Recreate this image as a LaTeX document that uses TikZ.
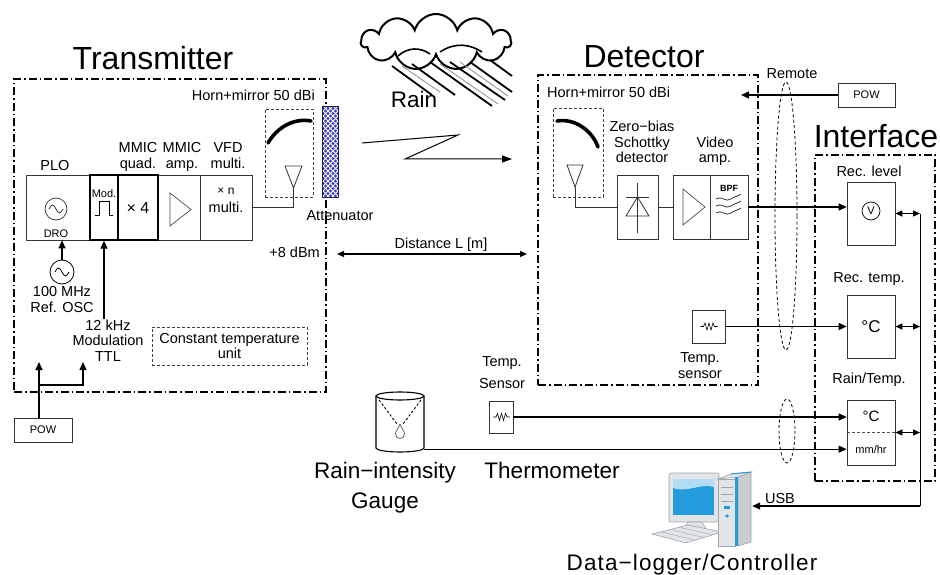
\documentclass[tikz,border=0pt]{standalone}
\usepackage{fontspec}
\setmainfont{Liberation Sans}
\usepackage{tikz}
\usetikzlibrary{arrows.meta, positioning, shapes.symbols}
\newcommand{\fsmall}{\fontsize{14.5}{15.5}\selectfont}
\newcommand{\ftiny}{\fontsize{11}{12}\selectfont}
\newcommand{\fbig}{\fontsize{22.5}{30}\selectfont}
\newcommand{\fhead}{\fontsize{32}{36}\selectfont}
\definecolor{attblue}{RGB}{58,62,196}
\definecolor{scrblue}{RGB}{35,155,220}
\definecolor{pcgray}{RGB}{226,229,232}
\definecolor{pcdark}{RGB}{160,166,172}

\begin{document}
\begin{tikzpicture}[x=1pt, y=-1pt,
    blk/.style={draw=black!80, rectangle, line width=0.7pt, inner sep=0pt},
    thk/.style={draw, rectangle, line width=1.4pt, inner sep=0pt},
    unit/.style={draw, line width=1.3pt, inner sep=0pt, dash pattern=on 8pt off 3pt on 1.5pt off 3pt},
    dbox/.style={draw=black!75, line width=0.7pt, inner sep=0pt, dash pattern=on 3pt off 2pt},
    lbl/.style={align=center, font=\fsmall, inner sep=0pt, anchor=base},
    big/.style={align=center, font=\fbig, inner sep=0pt, anchor=base},
    head/.style={font=\fhead, inner sep=0pt, anchor=base},
    sig/.style={draw, line width=1.2pt, -{Triangle[length=8pt,width=7pt]}},
    twoway/.style={draw, line width=1.2pt, {Triangle[length=7pt,width=6pt]}-{Triangle[length=7pt,width=6pt]}},
    wire/.style={draw=black!80, line width=0.8pt},
    mirror/.style={draw, line width=3.6pt, line cap=round},
    streak/.style={draw, line width=1.8pt},
    bundle/.style={draw, line width=0.8pt, dash pattern=on 3pt off 2.5pt}
  ]
  \useasboundingbox (0,0) rectangle (940,575);

  \node[unit, minimum width=312pt, minimum height=313pt] (TX) at (170,235.5) {};
  \node[unit, minimum width=220pt, minimum height=310pt] (DT) at (648,230) {};
  \node[unit, minimum width=120pt, minimum height=326pt] (IF) at (875,318) {};
  \node[head] (TT) at (153,70) {Transmitter};
  \node[head] (DH) at (644,68) {Detector};
  \node[head] (IH) at (876,148) {Interface};

  % transmitter
  \node[lbl, anchor=base east] (HTL) at (315,101) {Horn+mirror 50 dBi};
  \node[dbox, minimum width=48pt, minimum height=88pt] (HT) at (289,153) {};
  \draw[mirror] (268,143) .. controls (278,126) and (295,118) .. (311,121);
  \draw[wire] (285,166) -- (302,166) -- (293.5,188) -- cycle;
  \coordinate (AT1) at (293.5,188);
  \node[draw=attblue!50!black, line width=0.6pt, minimum width=15pt, minimum height=90pt, inner sep=0pt, fill=attblue] (ATT) at (330.5,152) {};
  \begin{scope}
    \clip (ATT.north west) rectangle (ATT.south east);
    \foreach \i in {-16,-11,...,94}
      \draw[white, line width=0.9pt] (323,107+\i) -- ++(15,15) (338,107+\i) -- ++(-15,15);
  \end{scope}
  \draw[attblue!50!black, line width=0.6pt] (ATT.north west) rectangle (ATT.south east);
  \node[lbl] (ATL) at (340,220) {Attenuator};

  \node[blk, minimum width=64pt, minimum height=65pt] (P) at (58,207.5) {};
  \node[blk, minimum width=42pt, minimum height=65pt] (AM) at (179,207.5) {};
  \node[blk, minimum width=52pt, minimum height=65pt] (N) at (226,207.5) {};
  \node[thk, minimum width=28pt, minimum height=65pt] (M) at (104,207.5) {};
  \node[thk, minimum width=40pt, minimum height=65pt, font=\fontsize{16}{16}\selectfont] (Q) at (138,207.5) {× 4};
  \node[lbl] (PL) at (55,171) {PLO};
  \node[lbl] (QL) at (138,168) {MMIC\\quad.};
  \node[lbl] (AL) at (182,168) {MMIC\\amp.};
  \node[lbl] (NL) at (228,168) {VFD\\multi.};

  \node[draw=black!80, circle, minimum size=22pt, inner sep=0pt, line width=0.7pt] (DRO) at (56,209) {};
  \draw[wire] (49,209) sin (52.5,205) cos (56,209) sin (59.5,213) cos (63,209);
  \node[font=\ftiny, inner sep=0pt, anchor=base] (DROL) at (56,237) {DRO};
  \node[font=\ftiny, inner sep=0pt, anchor=base] (ML) at (104,197) {Mod.};
  \draw[line width=0.9pt] (95,215) -- (99,215) -- (99,201) -- (109,201) -- (109,215) -- (113,215);
  \draw[draw=black!70, line width=0.7pt] (170,193) -- (191,209.5) -- (170,226) -- cycle;
  \node[font=\fontsize{12}{12}\selectfont, inner sep=0pt, anchor=base] (XN) at (226,194) {× n};
  \node[lbl] (XM) at (226,212) {multi.};
  \draw[wire] (AT1) |- (N.east);

  \node[draw, circle, minimum size=24pt, inner sep=0pt, line width=0.8pt] (OSC) at (62,272) {};
  \draw[line width=0.8pt] (55,272) sin (58.5,268) cos (62,272) sin (65.5,276) cos (69,272);
  \draw[sig] (OSC) -- (OSC |- P.south);
  \node[lbl] (OSCL) at (62,312) {100 MHz\\Ref. OSC};
  \node[lbl] (MT) at (108,361) {12 kHz\\Modulation\\TTL};
  \draw[sig] (MT.north -| M.south) -- (M.south);
  \node[dbox, minimum width=155pt, minimum height=38pt, align=center, font=\fsmall] (CT) at (229.5,346) {Constant temperature\\unit};
  \node[lbl, anchor=base east] (DBM) at (320,257) {+8 dBm};

  \node[blk, minimum width=58pt, minimum height=24pt, font=\ftiny] (PW1) at (43,430) {POW};
  \coordinate (PA) at (39,362);
  \coordinate (PB) at (83,362);
  \coordinate (PJ) at (39,385);
  \draw[sig] (PW1.north -| PA) -- (PA);
  \draw[sig] (PJ) -| (PB);

  % link
  \coordinate (DL1) at (337,254);
  \coordinate (DL2) at (527,254);
  \draw[twoway] (DL1) -- (DL2);
  \node[lbl] (DLL) at (441,248) {Distance L [m]};
  \coordinate (Z1) at (362,143);
  \coordinate (Z2) at (458,135);
  \coordinate (Z3) at (405,159);
  \coordinate (Z4) at (512,159);
  \draw[line width=1pt, -{Triangle[length=10pt,width=7pt]}] (Z1) -- (Z2) -- (Z3) -- (Z4);

  \node[cloud, draw, line width=2pt, cloud puffs=11, aspect=2.7, minimum width=150pt, minimum height=56pt, inner sep=0pt] (CL) at (436,42) {};
  \draw[line width=1.6pt] (398,56) .. controls (408,47) and (420,47) .. (430,54);
  \draw[line width=1.6pt] (440,52) .. controls (455,42) and (470,44) .. (482,52);
  \foreach \sx/\sy/\ex/\ey in {392/66/432/95, 412/64/455/95, 430/62/492/106, 450/62/505/100, 470/62/512/92, 490/60/512/76}
    \draw[streak] (\sx,\sy) -- (\ex,\ey);
  \foreach \sx/\sy/\ex/\ey in {402/66/440/92, 440/64/498/104, 460/62/508/96}
    \draw[black!45, line width=0.8pt] (\sx,\sy) -- (\ex,\ey);
  \node[big] (RN) at (414,108) {Rain};

  % detector
  \node[lbl, anchor=base west] (HDL) at (547,98) {Horn+mirror 50 dBi};
  \node[dbox, minimum width=50pt, minimum height=89pt] (HD) at (578,152.5) {};
  \draw[mirror] (557,121) .. controls (574,118) and (592,130) .. (598,147);
  \draw[wire] (567,165) -- (583,165) -- (575,187) -- cycle;
  \coordinate (AT2) at (575,187);
  \node[blk, minimum width=41pt, minimum height=64pt] (DI) at (637.5,207) {};
  \draw[wire] (AT2) |- (DI.west);
  \draw[wire] (637.5,183) -- (637.5,233);
  \draw[wire] (626,197) -- (649,197);
  \draw[wire] (637.5,197) -- (626,216) -- (649,216) -- cycle;
  \node[blk, minimum width=37pt, minimum height=64pt] (VA) at (691.5,207) {};
  \node[blk, minimum width=38pt, minimum height=64pt] (BP) at (729,207) {};
  \draw[wire] (DI.east) -- (VA.west);
  \draw[draw=black!70, line width=0.7pt] (683,189) -- (705,207) -- (683,225) -- cycle;
  \node[font=\bfseries\fontsize{9}{9}\selectfont, inner sep=0pt] (BPL) at (729,188) {BPF};
  \foreach \y in {199,206,213}
    \draw[wire] (716,\y) .. controls (721,\y-4) and (726,\y+4) .. (731,\y) .. controls (735,\y-3) and (739,\y-3) .. (741,\y-5);
  \node[lbl] (ZBL) at (642,163) {Zero−bias\\Schottky\\detector};
  \node[lbl] (VAL) at (715,163) {Video\\amp.};

  \node[blk, minimum width=57pt, minimum height=24pt, font=\ftiny] (PW2) at (866.5,95) {POW};
  \coordinate (RM) at (741,95);
  \draw[sig] (PW2.west) -- (RM);
  \node[lbl] (RML) at (792,79) {Remote};
  \draw[bundle] (786,216) ellipse [x radius=11, y radius=134];
  \draw[bundle] (787,431) ellipse [x radius=8, y radius=32];

  \node[blk, minimum width=33pt, minimum height=33pt] (TS1) at (708.5,326.5) {};
  \draw[line width=0.6pt] ([xshift=-8pt]TS1.center) -- ++(3,0) -- ++(1.5,-3.5) -- ++(2,7) -- ++(2,-7) -- ++(2,7) -- ++(2,-7) -- ++(1.5,3.5) -- ++(3,0);
  \node[lbl] (TS1L) at (700,378) {Temp.\\sensor};

  % interface
  \node[lbl] (RLL) at (869,176) {Rec. level};
  \node[blk, minimum width=48pt, minimum height=63pt] (RL) at (871,213.5) {};
  \node[draw, circle, minimum size=18pt, inner sep=0pt, line width=0.7pt, font=\fontsize{11}{11}\selectfont] (V) at (871,211) {V};
  \node[lbl] (RTL) at (869,282) {Rec. temp.};
  \node[blk, minimum width=48pt, minimum height=63pt, font=\fontsize{17}{17}\selectfont] (RT) at (871,326.5) {°C};
  \node[lbl] (RRL) at (869,383) {Rain/Temp.};
  \node[blk, minimum width=48pt, minimum height=65pt] (RR) at (871,432.5) {};
  \draw[black!70, line width=0.8pt, dash pattern=on 3pt off 2pt] (RR.west) -- (RR.east);
  \node[font=\fontsize{15}{15}\selectfont, inner sep=0pt] (RRC) at (871,416) {°C};
  \node[font=\fontsize{11}{11}\selectfont, inner sep=0pt] (RRM) at (871,450) {mm/hr};

  \draw[sig] (BP.east) -- (BP.east -| RL.west);
  \draw[sig] (TS1.east) -- (TS1.east -| RT.west);

  % sensors outside
  \node[blk, minimum width=24pt, minimum height=32pt] (TS2) at (501,417) {};
  \draw[line width=0.6pt] ([xshift=-8pt]TS2.center) -- ++(3,0) -- ++(1.5,-3.5) -- ++(2,7) -- ++(2,-7) -- ++(2,7) -- ++(2,-7) -- ++(1.5,3.5) -- ++(3,0);
  \node[lbl] (TS2L) at (502,388) {Temp.\\[6.5pt]Sensor};
  \draw[sig] (TS2.east) -- (TS2.east -| RR.west);

  \node[minimum width=48pt, minimum height=60pt, inner sep=0pt] (RG) at (400,422) {};
  \draw[line width=1.1pt] (376,396) -- (376,448) arc[start angle=180, end angle=0, x radius=24, y radius=4] -- (424,396);
  \draw[line width=1.1pt] (400,396) ellipse [x radius=24, y radius=4];
  \draw[line width=0.9pt, dash pattern=on 2.5pt off 2pt] (379,400) -- (397,424) (421,400) -- (403,424);
  \draw[black!60, line width=0.8pt] (400,424) .. controls (399,428) and (395.5,431) .. (395.5,434) arc[start angle=180, end angle=0, radius=4.5] .. controls (404.5,431) and (401,428) .. (400,424);
  \coordinate (RGO) at ([yshift=3pt]RG.south east);
  \draw[sig] (RGO) -- (RGO -| RR.west);
  \node[big] (RGL) at (385,508) {Rain−intensity\\Gauge};
  \node[big] (THL) at (552,478) {Thermometer};

  % data logger
  \node[minimum width=100pt, minimum height=73pt, inner sep=0pt] (PC) at (702,509.5) {};
  \draw[pcdark, fill=pcgray, rounded corners=2pt, line width=0.6pt] (669,473) rectangle (719,522);
  \fill[scrblue] (673,479) rectangle (714,515);
  \fill[scrblue!35] (673,479) -- (714,479) -- (714,487) .. controls (700,483) and (688,493) .. (673,488) -- cycle;
  \draw[pcdark, fill=pcgray, line width=0.6pt] (688,522) -- (702,522) -- (706,529) -- (684,529) -- cycle;
  \draw[pcdark, fill=pcgray, line width=0.6pt] (652,534) -- (688,525) -- (722,532) -- (686,543) -- cycle;
  \foreach \k in {1,2,3}
    \draw[pcdark, line width=0.4pt] (652+9*\k,534-2.25*\k) -- (686+9*\k,543-2.75*\k);
  \draw[pcdark, fill=pcdark!55, line width=0.6pt] (738,477) -- (751,472) -- (751,542) -- (738,546) -- cycle;
  \draw[pcdark, fill=pcgray, line width=0.6pt] (718,479) -- (731,474) -- (751,472) -- (738,477) -- cycle;
  \draw[pcdark, fill=pcgray, line width=0.6pt] (718,479) rectangle (735,546);
  \fill[scrblue] (735,477) rectangle (738,546);
  \draw[scrblue, line width=1pt] (731,474) -- (751,472);
  \foreach \y in {487,494,501}
    \draw[pcdark, line width=0.5pt] (721,\y) -- (733,\y);
  \fill[scrblue] (724,506) rectangle (730,509);
  \fill[scrblue] (727,516) circle (1.8);
  \node[big] (PCL) at (692,570) {\addfontfeature{LetterSpace=5}Data−logger/Controller};

  % usb bus
  \coordinate (BU) at (920,506);
  \draw[black, line width=1pt] (RL.east -| BU) -- (BU);
  \draw[twoway] (RL.east) -- (RL.east -| BU);
  \draw[twoway] (RT.east) -- (RT.east -| BU);
  \draw[twoway] (RR.east) -- (RR.east -| BU);
  \draw[sig] (BU) -- (BU -| PC.east);
  \node[lbl] (USBL) at (780,503) {USB};
\end{tikzpicture}
\end{document}
